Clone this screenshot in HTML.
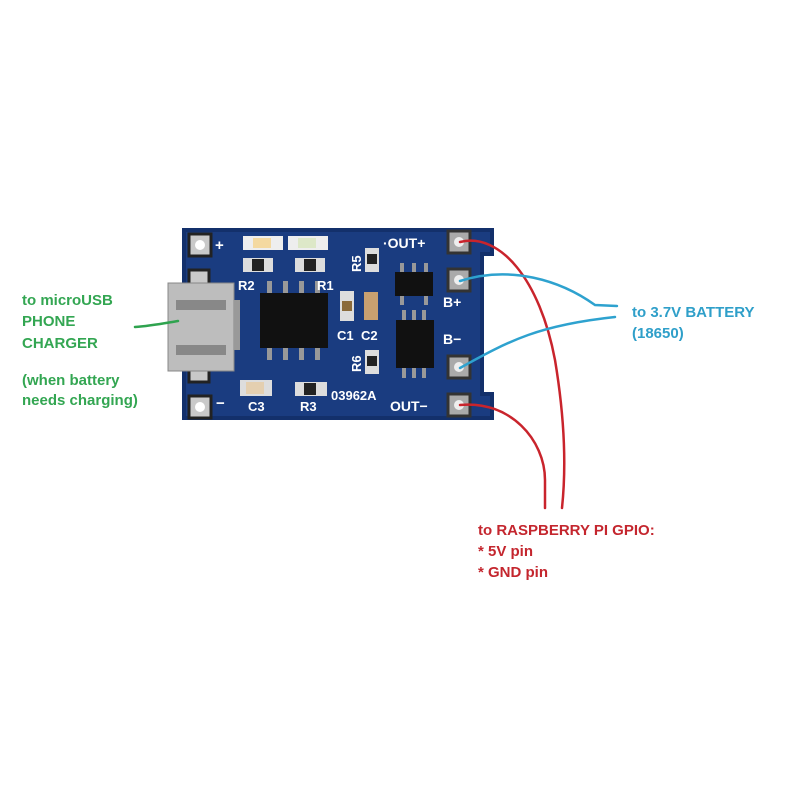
<!DOCTYPE html>
<html><head><style>
body{margin:0;background:#fff;width:800px;height:800px;overflow:hidden}
svg text{font-family:"Liberation Sans",sans-serif;font-weight:bold}
</style></head><body>
<svg width="800" height="800" viewBox="0 0 800 800">
<!-- board -->
<path d="M182 228 H494 V256 H484 V392 H494 V420 H182 Z" fill="#13306b"/>
<path d="M186 232 H490 V252 H480 V396 H490 V416 H186 Z" fill="#1a3c80"/>
<!-- pads left -->
<g fill="#c9c9c9" stroke="#222" stroke-width="3">
<rect x="189" y="234" width="22" height="22"/>
<rect x="189" y="396" width="22" height="22"/>
<rect x="189" y="270" width="20" height="16"/>
<rect x="189" y="366" width="20" height="16"/>
</g>
<g fill="#fff"><circle cx="200" cy="245" r="5"/><circle cx="200" cy="407" r="5"/></g>
<!-- right pads -->
<g fill="#aaa" stroke="#333" stroke-width="3">
<rect x="448" y="231" width="22" height="22"/>
<rect x="448" y="269" width="22" height="22"/>
<rect x="448" y="356" width="22" height="22"/>
<rect x="448" y="394" width="22" height="22"/>
</g>
<g fill="#eee"><circle cx="459" cy="242" r="5"/><circle cx="459" cy="280" r="5"/><circle cx="459" cy="367" r="5"/><circle cx="459" cy="405" r="5"/></g>
<!-- microUSB -->
<rect x="168" y="283" width="66" height="88" fill="#bdbdbd" stroke="#888"/>
<rect x="176" y="300" width="50" height="10" fill="#888"/>
<rect x="176" y="345" width="50" height="10" fill="#888"/>
<rect x="234" y="300" width="6" height="50" fill="#999"/>
<!-- LEDs -->
<rect x="243" y="236" width="40" height="14" fill="#eee"/><rect x="253" y="238" width="18" height="10" fill="#f4d9a0"/>
<rect x="288" y="236" width="40" height="14" fill="#eee"/><rect x="298" y="238" width="18" height="10" fill="#dde8c8"/>
<!-- resistors R2 R1 -->
<rect x="243" y="258" width="30" height="14" fill="#ddd"/><rect x="252" y="259" width="12" height="12" fill="#222"/>
<rect x="295" y="258" width="30" height="14" fill="#ddd"/><rect x="304" y="259" width="12" height="12" fill="#222"/>
<!-- main IC -->
<g fill="#999"><rect x="267" y="281" width="5" height="14"/><rect x="283" y="281" width="5" height="14"/><rect x="299" y="281" width="5" height="14"/><rect x="315" y="281" width="5" height="14"/>
<rect x="267" y="346" width="5" height="14"/><rect x="283" y="346" width="5" height="14"/><rect x="299" y="346" width="5" height="14"/><rect x="315" y="346" width="5" height="14"/></g>
<rect x="260" y="293" width="68" height="55" fill="#111"/>
<!-- C1 C2 -->
<rect x="340" y="291" width="14" height="30" fill="#ddd"/><rect x="342" y="301" width="10" height="10" fill="#8a6a3a"/>
<rect x="364" y="292" width="14" height="28" fill="#c8a070"/>
<!-- R5 R6 -->
<rect x="365" y="248" width="14" height="24" fill="#ddd"/><rect x="367" y="254" width="10" height="10" fill="#222"/>
<rect x="365" y="350" width="14" height="24" fill="#ddd"/><rect x="367" y="356" width="10" height="10" fill="#222"/>
<!-- small IC top -->
<g fill="#999"><rect x="400" y="263" width="4" height="10"/><rect x="412" y="263" width="4" height="10"/><rect x="424" y="263" width="4" height="10"/><rect x="400" y="295" width="4" height="10"/><rect x="424" y="295" width="4" height="10"/></g>
<rect x="395" y="272" width="38" height="24" fill="#111"/>
<!-- IC lower -->
<g fill="#999"><rect x="402" y="310" width="4" height="12"/><rect x="412" y="310" width="4" height="12"/><rect x="422" y="310" width="4" height="12"/><rect x="402" y="366" width="4" height="12"/><rect x="412" y="366" width="4" height="12"/><rect x="422" y="366" width="4" height="12"/></g>
<rect x="396" y="320" width="38" height="48" fill="#111"/>
<!-- C3 R3 -->
<rect x="240" y="380" width="32" height="16" fill="#ddd"/><rect x="246" y="382" width="18" height="12" fill="#e4cfb0"/>
<rect x="295" y="382" width="32" height="14" fill="#ddd"/><rect x="304" y="383" width="12" height="12" fill="#222"/>
<!-- silk labels -->
<g fill="#fff" font-size="15">
<text x="215" y="250">+</text><text x="216" y="408">−</text>
<text x="238" y="290" font-size="13">R2</text><text x="317" y="290" font-size="13">R1</text>
<text x="337" y="340" font-size="13">C1</text><text x="361" y="340" font-size="13">C2</text>
<text x="248" y="411" font-size="13">C3</text><text x="300" y="411" font-size="13">R3</text>
<text x="331" y="400" font-size="13">03962A</text>
<text x="383" y="248" font-size="14">·OUT+</text>
<text x="390" y="411" font-size="14">OUT−</text>
<text x="443" y="307" font-size="14">B+</text>
<text x="443" y="344" font-size="14">B−</text>
<text transform="translate(361 272) rotate(-90)" font-size="13">R5</text>
<text transform="translate(361 372) rotate(-90)" font-size="13">R6</text>
</g>
<!-- wires -->
<g fill="none" stroke-width="2.5" stroke-linecap="round">
<path d="M460 242 C500 232 540 280 555 360 C565 420 566 470 562 508" stroke="#c9242c"/>
<path d="M460 405 C510 400 545 440 545 480 L545 508" stroke="#c9242c"/>
<path d="M460 281 C510 265 560 280 595 305 L617 306" stroke="#2ea2cf"/>
<path d="M460 368 C510 340 540 325 615 317" stroke="#2ea2cf"/>
<path d="M135 327 C150 326 160 324 178 321" stroke="#2fa34f"/>
</g>
<!-- labels -->
<g fill="#33a652" font-size="15">
<text x="22" y="305">to microUSB</text>
<text x="22" y="326">PHONE</text>
<text x="22" y="348">CHARGER</text>
<text x="22" y="385">(when battery</text>
<text x="22" y="405">needs charging)</text>
</g>
<g fill="#2f9fc9" font-size="15">
<text x="632" y="317">to 3.7V BATTERY</text>
<text x="632" y="338">(18650)</text>
</g>
<g fill="#c4262e" font-size="15">
<text x="478" y="535">to RASPBERRY PI GPIO:</text>
<text x="478" y="556">* 5V pin</text>
<text x="478" y="577">* GND pin</text>
</g>
</svg>
</body></html>
